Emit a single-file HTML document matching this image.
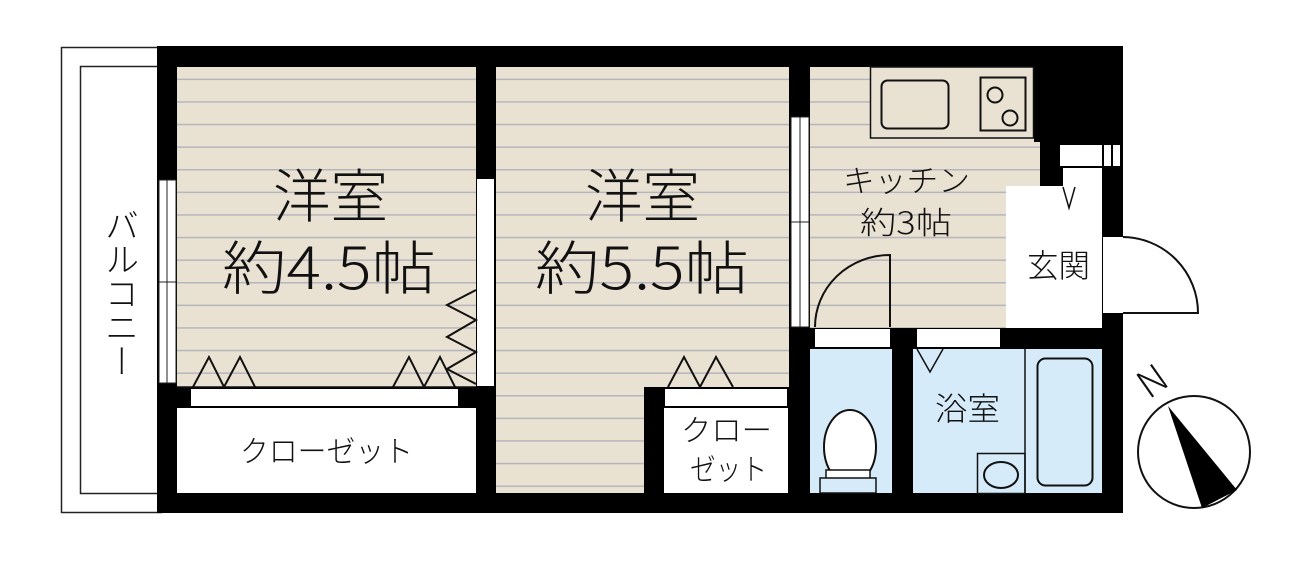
<!DOCTYPE html>
<html><head><meta charset="utf-8"><style>
html,body{margin:0;padding:0;background:#fff;}
svg{display:block;}
text{font-family:"Noto Sans CJK JP","Liberation Sans",sans-serif;fill:#111;font-weight:300;}
</style></head><body>
<svg width="1300" height="568" viewBox="0 0 1300 568" xmlns="http://www.w3.org/2000/svg">
<defs>
<pattern id="fl" x="0" y="78.6" width="10" height="22.6" patternUnits="userSpaceOnUse">
<rect width="10" height="22.6" fill="#e9e2d2"/>
<rect y="0" width="10" height="1.5" fill="#b5b5bd"/>
</pattern>
</defs>
<rect x="61.5" y="47.5" width="100" height="465" fill="#fff" stroke="#222" stroke-width="1.5"/>
<rect x="80.5" y="66.5" width="80" height="427" fill="#fff" stroke="#222" stroke-width="1.5"/>
<text x="122" y="208" font-size="34" text-anchor="start" style="writing-mode:vertical-rl">バルコニー</text>
<rect x="157" y="46" width="966" height="467" fill="#000"/>
<rect x="177" y="67" width="299" height="320" fill="url(#fl)"/>
<rect x="177" y="408" width="299" height="85" fill="#fff"/>
<rect x="191" y="389" width="267" height="17" fill="#fff"/>
<rect x="159" y="180" width="17" height="203" fill="#fff" stroke="#222" stroke-width="1"/>
<line x1="167" y1="180" x2="167" y2="383" stroke="#222" stroke-width="1"/>
<line x1="159" y1="282" x2="176" y2="282" stroke="#222" stroke-width="1"/>
<rect x="477" y="179" width="17" height="207" fill="#fff"/>
<rect x="496" y="67" width="293" height="320" fill="url(#fl)"/>
<rect x="496" y="387" width="148" height="106" fill="url(#fl)"/>
<rect x="664" y="408" width="124" height="85" fill="#fff"/>
<rect x="665" y="389" width="122" height="17" fill="#fff"/>
<rect x="810" y="67" width="224" height="75" fill="url(#fl)"/>
<rect x="810" y="142" width="230" height="44" fill="url(#fl)"/>
<rect x="810" y="186" width="196" height="142" fill="url(#fl)"/>
<rect x="870.5" y="67" width="163" height="71" fill="#e9e2d2" stroke="#111" stroke-width="1.5"/>
<rect x="881.5" y="80.5" width="67" height="48" rx="6" fill="none" stroke="#111" stroke-width="2"/>
<rect x="980.5" y="77.5" width="45" height="53" fill="none" stroke="#111" stroke-width="2"/>
<circle cx="995" cy="95" r="7.5" fill="none" stroke="#111" stroke-width="2"/>
<circle cx="1010" cy="118" r="7.5" fill="none" stroke="#111" stroke-width="2"/>
<rect x="791" y="117" width="18" height="210" fill="#fff" stroke="#222" stroke-width="1"/>
<line x1="800" y1="117" x2="800" y2="327" stroke="#222" stroke-width="1"/>
<line x1="791" y1="222" x2="809" y2="222" stroke="#222" stroke-width="1"/>
<rect x="1060" y="145" width="42" height="21" fill="#fff"/>
<rect x="1104" y="145" width="7" height="21" fill="#fff"/>
<rect x="1113" y="145" width="7" height="21" fill="#fff"/>
<rect x="1063" y="168" width="39" height="18" fill="#fff"/>
<rect x="1006" y="186" width="96" height="142" fill="#fff"/>
<polyline points="1063,187 1069,208 1075,187" fill="none" stroke="#111" stroke-width="1.5"/>
<rect x="1103" y="237" width="20" height="76" fill="#fff"/>
<path d="M1123,237 A76,76 0 0 1 1198,313 L1123,313" fill="#fff" stroke="#111" stroke-width="2"/>
<path d="M815,327 A75,72 0 0 1 890,255 L890,327" fill="none" stroke="#111" stroke-width="2"/>
<rect x="815" y="329" width="75" height="18" fill="#fff"/>
<rect x="917" y="329" width="83" height="18" fill="#fff"/>
<rect x="810" y="349" width="82" height="144" fill="#d6ebf9"/>
<ellipse cx="850" cy="447" rx="26" ry="37" fill="#fff" stroke="#111" stroke-width="2"/>
<rect x="826" y="470" width="44" height="9" fill="#fff" stroke="#111" stroke-width="1.5"/>
<rect x="820" y="478" width="56" height="15" fill="#d6ebf9" stroke="#111" stroke-width="1.5"/>
<rect x="913" y="349" width="189" height="144" fill="#d6ebf9"/>
<line x1="1025" y1="349" x2="1025" y2="493" stroke="#111" stroke-width="1.5"/>
<rect x="1037.5" y="358.5" width="55" height="127" rx="8" fill="none" stroke="#111" stroke-width="2"/>
<rect x="977.5" y="453.5" width="47.5" height="40" fill="none" stroke="#111" stroke-width="1.5"/>
<ellipse cx="1001" cy="475" rx="17" ry="13" fill="none" stroke="#111" stroke-width="2"/>
<polyline points="917,349 930,372 943,349" fill="none" stroke="#111" stroke-width="1.5"/>
<g fill="none" stroke="#111" stroke-width="2">
<polyline points="193,387 209,357 224,387 240,357 255,387"/>
<polyline points="393,387 409,357 424,387 440,357 455,387"/>
<polyline points="476,290 447,305 476,320 447,337 476,352 447,369 476,384"/>
<polyline points="668,387 684,357 700,387 716,357 733,387"/>
</g>
<line x1="177" y1="387" x2="476" y2="387" stroke="#111" stroke-width="1.5"/>
<text x="273" y="217" font-size="58" textLength="115" lengthAdjust="spacingAndGlyphs">洋室</text>
<text x="222" y="289" font-size="58" textLength="214" lengthAdjust="spacingAndGlyphs">約4.5帖</text>
<text x="240" y="462" font-size="30" textLength="173" lengthAdjust="spacingAndGlyphs">クローゼット</text>
<text x="585" y="217" font-size="58" textLength="115" lengthAdjust="spacingAndGlyphs">洋室</text>
<text x="535" y="289" font-size="58" textLength="214" lengthAdjust="spacingAndGlyphs">約5.5帖</text>
<text x="681" y="441" font-size="30" textLength="91" lengthAdjust="spacingAndGlyphs">クロー</text>
<text x="690" y="480" font-size="30" textLength="77" lengthAdjust="spacingAndGlyphs">ゼット</text>
<text x="843" y="192" font-size="31" textLength="127" lengthAdjust="spacingAndGlyphs">キッチン</text>
<text x="860" y="234" font-size="31" textLength="92" lengthAdjust="spacingAndGlyphs">約3帖</text>
<text x="1027" y="277" font-size="32" textLength="63" lengthAdjust="spacingAndGlyphs">玄関</text>
<text x="935" y="420" font-size="32" textLength="65" lengthAdjust="spacingAndGlyphs">浴室</text>
<circle cx="1194" cy="452" r="56" fill="#fff" stroke="#111" stroke-width="2"/>
<polygon points="1168,406 1202,508 1237,490" fill="#000"/>
<text x="0" y="0" font-size="38" text-anchor="middle" transform="translate(1160,392) rotate(-35)">N</text>
</svg>
</body></html>
